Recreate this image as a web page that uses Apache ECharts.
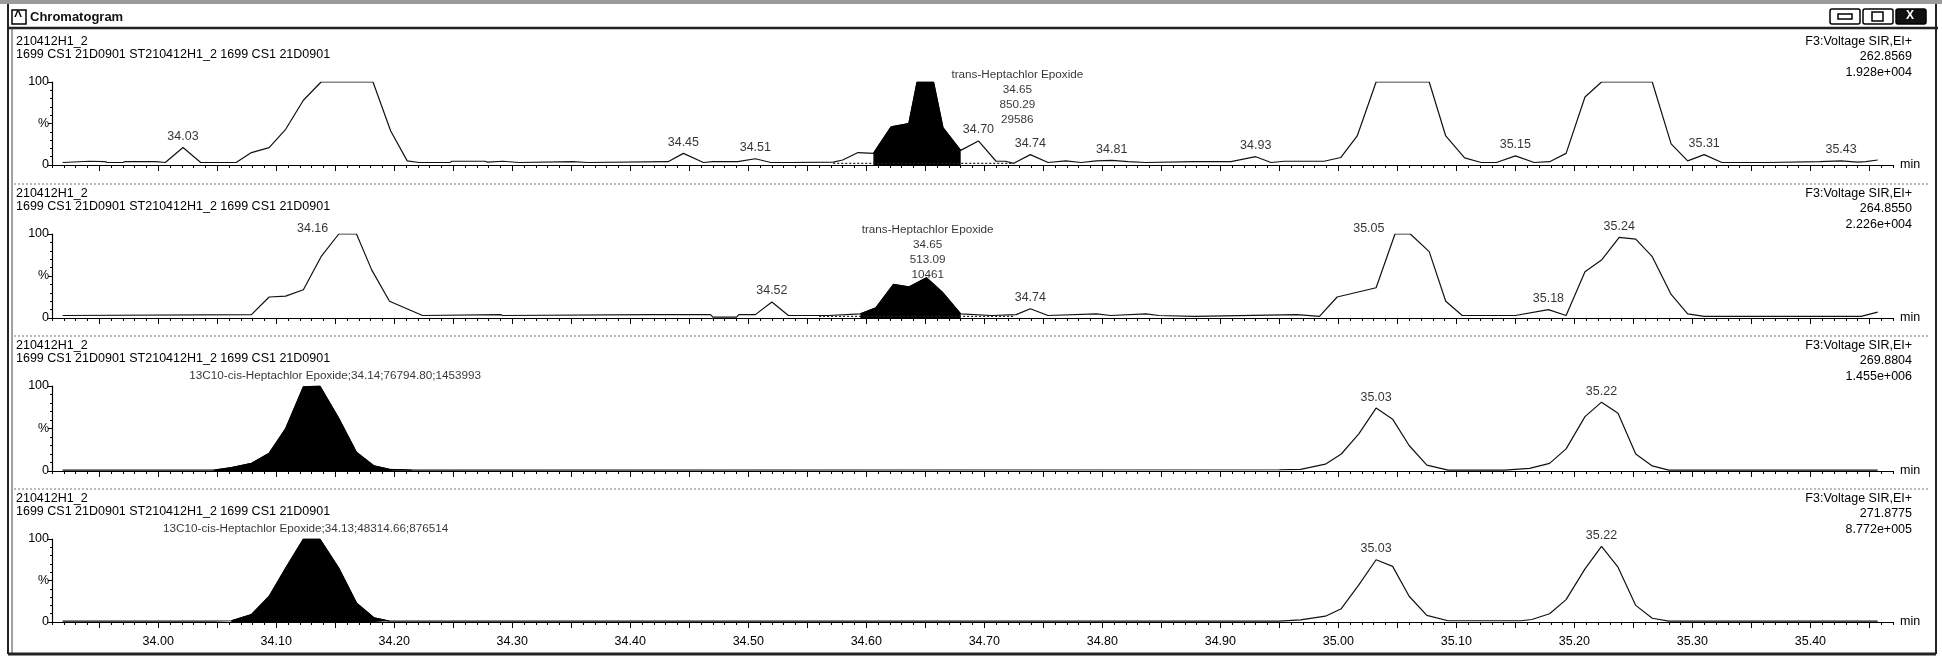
<!DOCTYPE html>
<html><head><meta charset="utf-8">
<script src="https://cdn.jsdelivr.net/npm/echarts@6/dist/echarts.min.js"></script>
<style>html,body{margin:0;padding:0;background:#fff}#c{width:1942px;height:657px}</style>
</head><body><div id="c"></div>
<script>
// ---------- DATA ----------
const windowTitle = 'Chromatogram';
const sampleName = '210412H1_2';
const sampleDesc = '1699 CS1 21D0901 ST210412H1_2 1699 CS1 21D0901';
const channelInfo = [
  ['F3:Voltage SIR,EI+', '262.8569', '1.928e+004'],
  ['F3:Voltage SIR,EI+', '264.8550', '2.226e+004'],
  ['F3:Voltage SIR,EI+', '269.8804', '1.455e+006'],
  ['F3:Voltage SIR,EI+', '271.8775', '8.772e+005']
];
const xTickValues = [34.0, 34.1, 34.2, 34.3, 34.4, 34.5, 34.6, 34.7, 34.8, 34.9, 35.0, 35.1, 35.2, 35.3, 35.4];
const xTickLabels = ['34.00','34.10','34.20','34.30','34.40','34.50','34.60','34.70','34.80','34.90','35.00','35.10','35.20','35.30','35.40'];
const yTickLabels = ['0', '%', '100'];
const xUnit = 'min';

// time (min), intensity (%)
const trace1 = [[33.919,3],[33.942,4.5],[33.955,4],[33.957,3],[33.970,3],[33.972,4],[33.998,4],[34.006,3],[34.021,21],[34.036,3],[34.066,3],[34.079,15],[34.094,21],[34.108,43],[34.123,78],[34.138,100],[34.182,100],[34.197,41],[34.211,5],[34.221,3],[34.247,3],[34.249,4.5],[34.277,4.5],[34.279,3.5],[34.292,4.5],[34.306,3],[34.351,4],[34.364,3],[34.432,4],[34.445,14],[34.462,3],[34.470,4],[34.491,4],[34.506,7.5],[34.519,3],[34.536,3],[34.572,3.5],[34.580,6],[34.593,15],[34.606,14],[34.621,46],[34.636,50],[34.643,100],[34.657,100],[34.665,45],[34.680,17.6],[34.695,29],[34.710,4.5],[34.718,4.5],[34.725,2],[34.739,12.5],[34.754,3],[34.769,5],[34.782,3],[34.795,5],[34.808,5.5],[34.822,4],[34.837,3],[34.878,4],[34.909,4],[34.930,10],[34.943,3],[34.954,4.5],[34.988,4.5],[35.002,9],[35.016,35],[35.032,100],[35.077,100],[35.091,35],[35.107,8.6],[35.121,3],[35.134,3],[35.150,11],[35.166,3],[35.179,4],[35.193,14],[35.209,82],[35.223,100],[35.266,100],[35.282,25.5],[35.296,5],[35.310,12.5],[35.325,3],[35.363,3],[35.408,4],[35.426,5],[35.440,3.5],[35.447,4],[35.457,6]];
const trace2 = [[33.919,3],[34.079,4],[34.094,25],[34.108,26],[34.123,33.6],[34.138,73],[34.153,100],[34.168,100],[34.181,57],[34.196,20],[34.224,3],[34.290,4],[34.292,3],[34.417,4],[34.468,4],[34.470,1],[34.490,1],[34.492,4],[34.506,4],[34.520,19],[34.534,3],[34.568,3],[34.595,5],[34.608,12],[34.623,40],[34.636,37],[34.651,48],[34.665,30],[34.680,5],[34.706,3],[34.727,4],[34.739,11],[34.754,3],[34.795,5],[34.807,3],[34.837,5],[34.848,3],[34.878,2],[34.965,4],[34.984,2],[34.999,25],[35.032,36],[35.048,100],[35.061,100],[35.077,79],[35.091,20],[35.105,3],[35.150,3],[35.178,10],[35.193,3],[35.209,55],[35.223,69],[35.238,96],[35.252,94],[35.266,73],[35.282,28],[35.296,5],[35.310,2],[35.443,2],[35.457,7]];
const trace3 = [[33.919,1],[34.047,1],[34.062,4],[34.079,9],[34.094,21],[34.108,50],[34.123,99],[34.137,100],[34.153,62],[34.168,22],[34.183,6],[34.196,2],[34.215,1],[34.950,1.5],[34.968,2],[34.989,8],[35.0025,20],[35.0175,44],[35.032,74],[35.046,61],[35.060,30],[35.075,7],[35.093,1],[35.141,1],[35.162,3],[35.179,9],[35.193,26],[35.209,64],[35.223,81],[35.237,68],[35.252,20],[35.266,6],[35.280,1],[35.457,1]];
const trace4 = [[33.919,1],[34.047,1],[34.062,1.5],[34.079,9],[34.094,31],[34.108,65],[34.123,100],[34.137,100],[34.153,65],[34.168,23],[34.183,5],[34.196,1],[34.950,1],[34.968,2.6],[34.989,7],[35.0025,16],[35.0175,45],[35.032,75],[35.046,67],[35.060,31],[35.075,8],[35.093,1.5],[35.155,1.5],[35.164,3],[35.179,10],[35.193,27],[35.209,64],[35.223,91],[35.237,66],[35.252,20],[35.266,4.5],[35.280,1],[35.457,1]];

// integrated (filled) peak ranges [start, end]
const integrated1 = [34.606, 34.680];
const integrated2 = [34.595, 34.680];
const integrated3 = [34.047, 34.215];
const integrated4 = [34.062, 34.196];
// dotted integration baselines
const baseline1 = [[34.572, 2], [34.725, 2]];
const baseline2 = [[34.560, 2], [34.725, 2]];

// peak labels: time, intensity, text, side
const peaks1 = [[34.021,21,'34.03'],[34.445,14,'34.45'],[34.506,7.5,'34.51'],[34.695,29,'34.70'],[34.739,12.5,'34.74'],[34.808,5.5,'34.81'],[34.930,10,'34.93'],[35.150,11,'35.15'],[35.310,12.5,'35.31'],[35.426,5,'35.43']];
const peaks2 = [[34.153,100,'34.16','left'],[34.520,19,'34.52'],[34.739,11,'34.74'],[35.048,100,'35.05','left'],[35.178,10,'35.18'],[35.238,96,'35.24']];
const peaks3 = [[35.032,74,'35.03'],[35.223,81,'35.22']];
const peaks4 = [[35.032,75,'35.03'],[35.223,91,'35.22']];

// compound annotations: time, intensity anchor, lines, placement
const compound1 = [34.728, 82, ['trans-Heptachlor Epoxide','34.65','850.29','29586'], 'inside'];
const compound2 = [34.652, 78, ['trans-Heptachlor Epoxide','34.65','513.09','10461'], 'inside'];
const compound3 = [34.150, 100, ['13C10-cis-Heptachlor Epoxide;34.14;76794.80;1453993'], 'top'];
const compound4 = [34.125, 100, ['13C10-cis-Heptachlor Epoxide;34.13;48314.66;876514'], 'top'];

// ---------- LAYOUT ----------
const FONT = 'Liberation Sans, Arial, sans-serif';
const FS = 12.5, FS_C = 11.7;
const tops = [82, 234, 386, 539];
const heights = [83, 84, 85, 83];
const X_MIN = 33.91, X_MAX = 35.47;
const GL = 52, GR = 49;

const traces = [trace1, trace2, trace3, trace4];
const integ = [integrated1, integrated2, integrated3, integrated4];
const baselines = [baseline1, baseline2, null, null];
const peaks = [peaks1, peaks2, peaks3, peaks4];
const compounds = [compound1, compound2, compound3, compound4];

const majorTicks = [], minorTicks = [];
for (let k = 0; k <= 160; k++) {
  const v = +(33.9 + k * 0.01).toFixed(2);
  if (v < X_MIN - 1e-9 || v > X_MAX + 1e-9) continue;
  if (k % 5 === 0) majorTicks.push(v); else minorTicks.push(v);
}

const txt = {color: '#000', fontFamily: FONT, fontSize: FS};
const grids = [], xAxes = [], yAxes = [], series = [], graphics = [];

tops.forEach((top, i) => {
  grids.push({left: GL, right: GR, top: top, height: heights[i]});
  xAxes.push({
    type: 'value', gridIndex: i, min: X_MIN, max: X_MAX, position: 'bottom',
    axisLine: {show: true, onZero: false, lineStyle: {color: '#000', width: 1.2}},
    axisTick: {show: true, customValues: majorTicks, length: 6, lineStyle: {color: '#000'}},
    axisLabel: {show: i === 3, customValues: xTickValues, margin: 13, ...txt,
      formatter: v => { const j = xTickValues.findIndex(t => Math.abs(t - v) < 1e-6); return j >= 0 ? xTickLabels[j] : ''; }},
    splitLine: {show: false},
    name: xUnit, nameLocation: 'end', nameGap: 7, nameTextStyle: {...txt, verticalAlign: 'middle'}
  });
  xAxes.push({
    type: 'value', gridIndex: i, min: X_MIN, max: X_MAX, position: 'bottom',
    axisLine: {show: false}, axisLabel: {show: false}, splitLine: {show: false},
    axisTick: {show: true, customValues: minorTicks, length: 3, lineStyle: {color: '#000'}}
  });
  yAxes.push({
    type: 'value', gridIndex: i, min: 0, max: 100, interval: 50,
    axisLine: {show: true, lineStyle: {color: '#000', width: 1.2}},
    axisTick: {show: true, length: 4, lineStyle: {color: '#000'}},
    minorTick: {show: true, splitNumber: 5, length: 2, lineStyle: {color: '#000'}},
    axisLabel: {margin: 3, ...txt, formatter: v => yTickLabels[Math.round(v / 50)]},
    splitLine: {show: false}
  });
  const tr = traces[i];
  series.push({type: 'line', xAxisIndex: 2 * i, yAxisIndex: i, data: tr, symbol: 'none',
    lineStyle: {color: '#111', width: 1.2}, silent: true, animation: false, z: 3});
  const rg = integ[i];
  series.push({type: 'line', xAxisIndex: 2 * i, yAxisIndex: i,
    data: tr.filter(p => p[0] >= rg[0] - 1e-9 && p[0] <= rg[1] + 1e-9), symbol: 'none',
    lineStyle: {color: '#000', width: 1}, areaStyle: {color: '#000', opacity: 1}, silent: true, animation: false, z: 4});
  if (baselines[i]) {
    series.push({type: 'line', xAxisIndex: 2 * i, yAxisIndex: i, data: baselines[i], symbol: 'none',
      lineStyle: {color: '#222', width: 1.2, type: [2, 2]}, silent: true, animation: false, z: 5});
  }
  series.push({type: 'scatter', xAxisIndex: 2 * i, yAxisIndex: i, clip: false, symbolSize: 1,
    itemStyle: {color: 'rgba(0,0,0,0)'}, silent: true, animation: false, z: 6,
    data: peaks[i].map(p => ({value: [p[0], p[1]], name: p[2],
      label: {position: p[3] === 'left' ? 'left' : 'top', distance: p[3] === 'left' ? 10 : 4, offset: p[3] === 'left' ? [0, -5] : [0, 0]}})),
    label: {show: true, formatter: '{b}', ...txt}
  });
  const c = compounds[i];
  series.push({type: 'scatter', xAxisIndex: 2 * i, yAxisIndex: i, clip: false, symbolSize: 1,
    itemStyle: {color: 'rgba(0,0,0,0)'}, silent: true, animation: false, z: 6,
    data: [{value: [c[0], c[1]], name: c[2].join('\n')}],
    label: {show: true, formatter: '{b}', position: c[3], distance: 2, lineHeight: 15, align: 'center', ...txt, fontSize: FS_C}
  });
  // header texts
  graphics.push({type: 'text', left: 16, top: top - 47, style: {text: sampleName, fill: '#000', font: FS + 'px ' + FONT}});
  graphics.push({type: 'text', left: 16, top: top - 34, style: {text: sampleDesc, fill: '#000', font: FS + 'px ' + FONT}});
  channelInfo[i].forEach((s, k) => {
    graphics.push({type: 'text', right: 30, top: top - 47 + k * 15.5, style: {text: s, fill: '#000', font: FS + 'px ' + FONT, align: 'right'}});
  });
  if (i > 0) {
    graphics.push({type: 'line', shape: {x1: 14, y1: top - 50, x2: 1930, y2: top - 50},
      style: {stroke: '#777', lineWidth: 1, lineDash: [2, 2]}});
  }
});

// window frame & title bar
graphics.push({type: 'rect', shape: {x: 0, y: 0, width: 1942, height: 4}, style: {fill: '#9a9a9a'}});
graphics.push({type: 'line', shape: {x1: 8, y1: 28, x2: 1938, y2: 28}, style: {stroke: '#222', lineWidth: 2.5}});
graphics.push({type: 'line', shape: {x1: 8, y1: 4, x2: 8, y2: 654}, style: {stroke: '#222', lineWidth: 2}});
graphics.push({type: 'line', shape: {x1: 12, y1: 28, x2: 12, y2: 654}, style: {stroke: '#444', lineWidth: 1}});
graphics.push({type: 'line', shape: {x1: 1936, y1: 4, x2: 1936, y2: 654}, style: {stroke: '#222', lineWidth: 2}});
graphics.push({type: 'line', shape: {x1: 8, y1: 654, x2: 1936, y2: 654}, style: {stroke: '#222', lineWidth: 3}});
graphics.push({type: 'rect', shape: {x: 12, y: 10, width: 14, height: 14}, style: {fill: '#fff', stroke: '#000', lineWidth: 1.5}});
graphics.push({type: 'text', x: 14, y: 10, style: {text: '^', fill: '#000', font: 'bold 14px ' + FONT}});
graphics.push({type: 'text', x: 30, y: 11, style: {text: windowTitle, fill: '#111', font: 'bold 13px ' + FONT}});
[[1830, false], [1863, false], [1896, true]].forEach(b => {
  graphics.push({type: 'rect', shape: {x: b[0], y: 9, width: 30, height: 15, r: 2},
    style: {fill: b[1] ? '#111' : '#fff', stroke: '#000', lineWidth: 1.5}});
});
graphics.push({type: 'rect', shape: {x: 1838, y: 14, width: 14, height: 5}, style: {fill: '#fff', stroke: '#000', lineWidth: 1.5}});
graphics.push({type: 'rect', shape: {x: 1872, y: 12, width: 11, height: 9}, style: {fill: '#fff', stroke: '#000', lineWidth: 1.5}});
graphics.push({type: 'text', x: 1906, y: 10, style: {text: 'X', fill: '#fff', font: 'bold 12px ' + FONT}});

const chart = echarts.init(document.getElementById('c'), null, {renderer: 'canvas'});
chart.setOption({
  animation: false,
  backgroundColor: '#fff',
  grid: grids, xAxis: xAxes, yAxis: yAxes, series: series, graphic: graphics
});
</script></body></html>
